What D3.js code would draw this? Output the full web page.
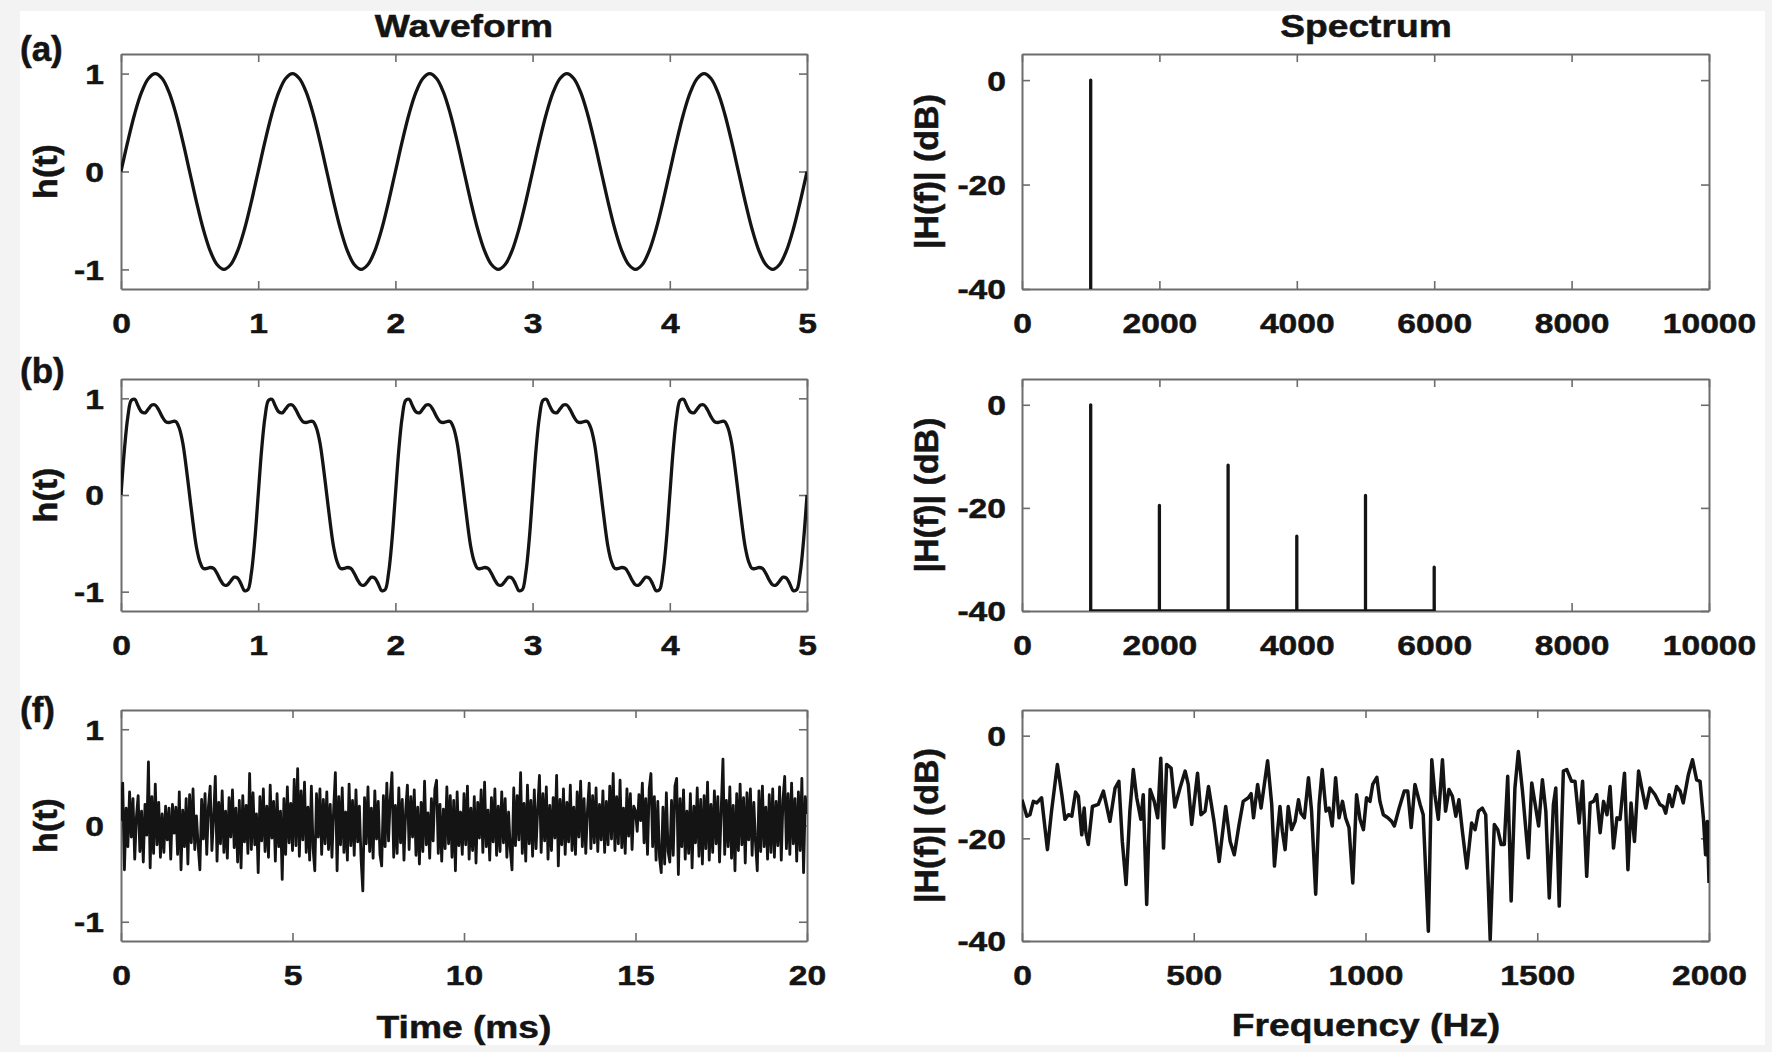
<!DOCTYPE html>
<html><head><meta charset="utf-8">
<script src="https://cdn.jsdelivr.net/npm/d3@7"></script>
<style>
html,body{margin:0;padding:0;background:#f3f3f3;}
svg{display:block;}
text{font-family:"Liberation Sans",Arial,Helvetica,sans-serif;font-weight:bold;fill:#141414;stroke:#141414;stroke-width:0.5px;}
</style></head><body>
<svg id="chart" width="1772" height="1052"></svg>
<script>
// ---------------- DATA ----------------
const columnTitles = ["Waveform", "Spectrum"];
const panelLabels = ["(a)", "(b)", "(f)"];
const waveYLabel = "h(t)";
const specYLabel = "|H(f)| (dB)";
const timeLabel = "Time (ms)";
const freqLabel = "Frequency (Hz)";

const waveTicksShort = [0, 1, 2, 3, 4, 5];
const waveTicksLong = [0, 5, 10, 15, 20];
const waveYTicks = [-1, 0, 1];
const specTicksWide = [0, 2000, 4000, 6000, 8000, 10000];
const specTicksNarrow = [0, 500, 1000, 1500, 2000];
const specYTicks = [-40, -20, 0];

// (a) pure tone, samples every 0.05 ms
const sineStep = 0.05;
const sineValues = [
 0,0.31,0.59,0.81,0.95,1,0.95,0.81,0.59,0.31,0,-0.31,-0.59,-0.81,-0.95,-1,-0.95,-0.81,-0.59,-0.31,
 0,0.31,0.59,0.81,0.95,1,0.95,0.81,0.59,0.31,0,-0.31,-0.59,-0.81,-0.95,-1,-0.95,-0.81,-0.59,-0.31,
 0,0.31,0.59,0.81,0.95,1,0.95,0.81,0.59,0.31,0,-0.31,-0.59,-0.81,-0.95,-1,-0.95,-0.81,-0.59,-0.31,
 0,0.31,0.59,0.81,0.95,1,0.95,0.81,0.59,0.31,0,-0.31,-0.59,-0.81,-0.95,-1,-0.95,-0.81,-0.59,-0.31,
 0,0.31,0.59,0.81,0.95,1,0.95,0.81,0.59,0.31,0,-0.31,-0.59,-0.81,-0.95,-1,-0.95,-0.81,-0.59,-0.31,
 0];

// (b) complex periodic tone, samples every 0.025 ms
const complexStep = 0.025;
const complexValues = [
 0,0.47,0.81,0.98,0.99,0.92,0.86,0.85,0.89,0.93,0.93,0.88,0.81,0.76,0.75,0.76,0.76,0.69,0.54,0.29,
 0,-0.29,-0.54,-0.69,-0.76,-0.76,-0.75,-0.76,-0.81,-0.88,-0.93,-0.93,-0.89,-0.85,-0.86,-0.92,-0.99,-0.98,-0.81,-0.47,
 0,0.47,0.81,0.98,0.99,0.92,0.86,0.85,0.89,0.93,0.93,0.88,0.81,0.76,0.75,0.76,0.76,0.69,0.54,0.29,
 0,-0.29,-0.54,-0.69,-0.76,-0.76,-0.75,-0.76,-0.81,-0.88,-0.93,-0.93,-0.89,-0.85,-0.86,-0.92,-0.99,-0.98,-0.81,-0.47,
 0,0.47,0.81,0.98,0.99,0.92,0.86,0.85,0.89,0.93,0.93,0.88,0.81,0.76,0.75,0.76,0.76,0.69,0.54,0.29,
 0,-0.29,-0.54,-0.69,-0.76,-0.76,-0.75,-0.76,-0.81,-0.88,-0.93,-0.93,-0.89,-0.85,-0.86,-0.92,-0.99,-0.98,-0.81,-0.47,
 0,0.47,0.81,0.98,0.99,0.92,0.86,0.85,0.89,0.93,0.93,0.88,0.81,0.76,0.75,0.76,0.76,0.69,0.54,0.29,
 0,-0.29,-0.54,-0.69,-0.76,-0.76,-0.75,-0.76,-0.81,-0.88,-0.93,-0.93,-0.89,-0.85,-0.86,-0.92,-0.99,-0.98,-0.81,-0.47,
 0,0.47,0.81,0.98,0.99,0.92,0.86,0.85,0.89,0.93,0.93,0.88,0.81,0.76,0.75,0.76,0.76,0.69,0.54,0.29,
 0,-0.29,-0.54,-0.69,-0.76,-0.76,-0.75,-0.76,-0.81,-0.88,-0.93,-0.93,-0.89,-0.85,-0.86,-0.92,-0.99,-0.98,-0.81,-0.47,
 0];

// (f) noise, samples every 0.05 ms
const noiseStep = 0.05;
const noiseValues = [
 0.05,0.44,-0.46,0.18,-0.22,0.35,-0.12,0.28,-0.35,0.09,0.31,-0.27,0.15,-0.38,0.22,-0.10,0.66,-0.44,0.30,-0.29,
 0.43,-0.20,0.24,-0.33,0.12,-0.28,0.20,-0.15,0.18,-0.35,0.22,-0.08,0.19,-0.30,0.35,-0.46,0.16,-0.22,0.28,-0.40,
 0.32,-0.18,0.38,-0.25,0.10,-0.21,-0.46,0.27,-0.14,0.33,-0.30,0.20,0.41,-0.26,0.08,0.51,-0.37,0.24,-0.19,0.36,
 -0.28,0.15,-0.34,0.29,-0.12,0.37,-0.23,0.18,-0.38,0.26,-0.44,0.31,-0.17,0.21,-0.29,0.54,-0.25,0.34,-0.20,0.12,
 -0.49,0.30,-0.16,0.38,-0.27,0.20,-0.33,0.42,-0.13,0.25,-0.37,0.33,-0.22,0.15,-0.56,0.28,-0.30,0.40,-0.18,0.23,
 -0.26,0.48,-0.21,0.59,-0.32,0.36,-0.15,0.45,-0.28,0.19,-0.36,0.41,-0.24,-0.47,0.33,-0.12,0.38,-0.30,0.27,-0.19,
 0.35,-0.25,0.22,-0.33,0.17,0.55,-0.47,0.30,-0.20,0.39,-0.28,0.14,-0.36,0.43,-0.21,0.26,-0.31,0.37,-0.17,0.20,
 -0.35,-0.68,0.29,-0.19,0.40,-0.27,0.18,-0.34,0.36,-0.14,0.25,-0.30,-0.42,0.31,-0.22,0.44,-0.16,0.28,0.55,-0.33,
 0.21,-0.29,0.39,-0.18,0.27,-0.36,0.16,0.42,-0.25,0.30,-0.12,0.37,-0.31,0.19,-0.40,0.24,-0.27,0.46,-0.20,0.13,
 -0.34,0.28,-0.16,0.38,0.47,-0.29,0.22,-0.37,0.17,-0.24,0.40,-0.19,0.31,-0.33,0.26,-0.47,0.35,-0.21,0.14,-0.30,
 0.33,-0.20,0.41,-0.35,0.18,-0.26,0.30,-0.39,0.24,-0.13,0.37,-0.28,0.45,-0.22,0.16,-0.36,0.29,-0.17,0.38,-0.31,
 0.20,-0.27,0.35,-0.18,0.28,-0.33,0.14,-0.25,-0.46,0.39,-0.21,0.31,-0.15,0.55,-0.29,0.23,-0.37,0.42,-0.19,0.26,
 -0.32,0.37,-0.24,0.18,0.52,-0.28,0.33,-0.16,0.40,-0.35,0.21,-0.26,0.29,-0.13,0.52,-0.42,0.27,-0.20,0.38,-0.30,
 0.24,-0.17,0.42,-0.26,0.19,-0.30,0.35,-0.12,0.46,-0.22,0.28,-0.29,0.16,0.44,-0.24,0.31,-0.18,0.39,-0.27,0.22,
 -0.15,0.36,-0.28,0.25,-0.20,0.41,-0.14,0.54,-0.26,0.30,-0.19,0.47,-0.23,0.18,-0.29,0.38,-0.11,0.33,-0.25,0.20,
 0.15,-0.06,0.32,0.05,0.44,-0.18,0.28,-0.30,0.38,0.54,-0.22,0.30,-0.36,0.25,-0.33,-0.49,0.19,-0.40,0.34,-0.27,
 -0.38,0.26,-0.31,0.41,0.49,-0.51,0.28,-0.22,0.37,-0.35,0.15,-0.29,0.33,-0.44,0.20,-0.18,0.39,-0.32,0.27,-0.40,
 0.31,-0.24,0.45,-0.36,0.22,-0.28,0.36,-0.19,0.30,-0.38,0.18,0.69,-0.30,0.26,-0.22,0.40,-0.34,0.21,-0.47,0.33,
 -0.26,0.43,-0.20,0.29,-0.39,0.34,-0.15,0.38,-0.31,0.24,-0.18,-0.47,0.36,-0.27,0.41,-0.22,0.19,-0.35,0.32,-0.28,
 0.38,-0.33,0.25,-0.21,0.40,-0.36,0.27,0.51,-0.24,0.33,-0.30,0.44,-0.19,0.28,-0.37,0.35,-0.26,0.49,-0.49,0.30,
 0.12];

// spectra (a) and (b): harmonic frequencies (Hz) and levels (dB)
const specFloor = -40;
const toneFreqs = [1000];
const toneDb = [0];
const complexFreqs = [1000, 2000, 3000, 4000, 5000, 6000];
const complexDb = [0, -19.5, -11.7, -25.5, -17.6, -31.5];

// spectrum (f)
const noiseSpecFreq = [0,14,23,33,43,57,74,86,103,116,125,135,145,156,164,174,181,186,193,205,222,237,256,271,282,292,303,314,324,334,346,353,363,373,385,395,404,412,421,434,445,460,475,484,494,511,521,533,543,559,574,593,606,618,632,644,659,667,674,686,696,715,727,735,743,751,758,766,775,785,795,805,812,822,834,843,855,865,874,885,894,903,913,923,933,942,952,963,974,984,994,1003,1013,1021,1033,1042,1052,1065,1076,1084,1098,1113,1123,1133,1144,1159,1168,1183,1193,1202,1212,1224,1233,1243,1253,1263,1272,1282,1295,1309,1319,1329,1340,1350,1363,1375,1385,1395,1404,1414,1424,1435,1445,1457,1474,1484,1494,1504,1515,1525,1535,1547,1554,1564,1576,1586,1600,1610,1622,1632,1644,1654,1664,1673,1683,1693,1703,1712,1722,1732,1741,1754,1764,1773,1783,1795,1806,1816,1828,1843,1857,1867,1874,1884,1893,1906,1916,1925,1940,1952,1964,1974,1984,1990,1995,2000];
const noiseSpecDb = [-12.5,-15.7,-15.4,-12.8,-13.1,-12.1,-22.2,-14.7,-5.6,-11.5,-16.3,-15.4,-15.7,-11.0,-11.8,-19.3,-14.1,-18.9,-21.2,-13.8,-13.4,-10.8,-16.7,-10.2,-8.9,-20.6,-29.0,-14.7,-6.6,-12.1,-16.3,-11.5,-32.9,-10.5,-12.8,-16.0,-4.4,-21.9,-5.6,-6.3,-13.9,-10.2,-6.9,-9.5,-17.3,-7.3,-15.4,-14.7,-9.9,-16.7,-24.5,-13.8,-20.6,-23.2,-17.3,-12.8,-12.1,-11.3,-16.0,-9.5,-14.1,-4.9,-13.4,-25.4,-19.3,-13.8,-18.6,-22.2,-13.8,-18.3,-16.7,-12.5,-15.1,-16.0,-8.2,-14.7,-30.9,-13.4,-6.6,-14.7,-14.1,-17.6,-8.2,-16.0,-12.8,-16.0,-17.9,-28.7,-11.5,-16.3,-18.3,-12.1,-12.8,-9.5,-8.1,-12.8,-15.4,-16.0,-16.7,-17.6,-14.1,-10.8,-10.8,-17.9,-9.5,-13.4,-15.4,-38.1,-4.7,-11.5,-16.3,-4.7,-14.7,-10.5,-11.8,-15.7,-12.5,-18.6,-25.8,-17.0,-18.3,-14.7,-14.1,-15.4,-39.7,-17.3,-18.3,-21.2,-21.2,-7.9,-32.2,-10.2,-3.1,-10.8,-23.8,-9.2,-13.4,-17.6,-8.6,-14.7,-31.6,-13.4,-10.2,-33.2,-6.9,-6.6,-8.9,-8.9,-17.0,-8.9,-27.4,-13.1,-12.8,-11.5,-18.9,-12.8,-15.4,-9.9,-21.9,-16.0,-16.3,-7.3,-26.1,-13.1,-20.6,-6.9,-10.8,-14.1,-10.2,-11.5,-13.4,-13.8,-15.1,-11.5,-13.8,-9.9,-10.8,-13.1,-7.6,-4.7,-8.6,-8.9,-16.3,-23.2,-16.7,-28.7];

// ---------------- DRAWING ----------------
const svg = d3.select("#chart");
svg.append("rect").attr("x", 20).attr("y", 11).attr("width", 1745).attr("height", 1034).attr("fill", "#ffffff");

const SX = 1.18;            // horizontal stretch of the original lettering
const AXIS = "#6c6c6c";
const INK = "#141414";
const colX = [[121, 807], [1022, 1709]];
const rowY = [[54, 289], [379, 611], [710, 941]];

function sampled(values, step) { return values.map((v, i) => [i * step, v]); }
function stems(freqs, dbs) {
  const pts = [];
  freqs.forEach((f, i) => { pts.push([f, specFloor], [f, dbs[i]], [f, specFloor]); });
  return pts;
}

function panel(cfg) {
  const [x0, x1] = colX[cfg.col], [y0, y1] = rowY[cfg.row];
  const x = d3.scaleLinear().domain(cfg.xDomain).range([x0, x1]);
  const y = d3.scaleLinear().domain(cfg.yDomain).range([y1, y0]);
  const g = svg.append("g");
  const id = "clip" + cfg.col + "_" + cfg.row;
  svg.append("defs").append("clipPath").attr("id", id)
    .append("rect").attr("x", x0).attr("y", y0).attr("width", x1 - x0).attr("height", y1 - y0);

  const fmt = d => String(d);
  const styleAxis = sel => {
    sel.select(".domain").attr("stroke", AXIS).attr("stroke-width", 2);
    sel.selectAll(".tick line").attr("stroke", AXIS).attr("stroke-width", 1.6);
    sel.attr("font-family", null).attr("font-size", null);
  };
  // bottom
  const gb = g.append("g").attr("transform", `translate(0,${y1})`)
    .call(d3.axisBottom(x).tickValues(cfg.xTicks).tickSizeInner(-8).tickSizeOuter(0).tickFormat(fmt));
  styleAxis(gb);
  gb.selectAll(".tick text").attr("y", 24).attr("dy", "0.71em")
    .style("font-size", "28.5px").attr("transform", `scale(${SX},1)`);
  // top
  const gt = g.append("g").attr("transform", `translate(0,${y0})`)
    .call(d3.axisTop(x).tickValues(cfg.xTicks).tickSizeInner(-8).tickSizeOuter(0).tickFormat(""));
  styleAxis(gt);
  // left
  const gl = g.append("g").attr("transform", `translate(${x0},0)`)
    .call(d3.axisLeft(y).tickValues(cfg.yTicks).tickSizeInner(-8).tickSizeOuter(0).tickFormat(fmt));
  styleAxis(gl);
  gl.selectAll(".tick text").attr("x", -cfg.yGap / SX).attr("dy", "0.35em")
    .style("font-size", "28.5px").attr("transform", `scale(${SX},1)`);
  // right
  const gr = g.append("g").attr("transform", `translate(${x1},0)`)
    .call(d3.axisRight(y).tickValues(cfg.yTicks).tickSizeInner(-8).tickSizeOuter(0).tickFormat(""));
  styleAxis(gr);

  // data
  g.append("path").datum(cfg.data)
    .attr("clip-path", `url(#${id})`)
    .attr("fill", "none").attr("stroke", INK).attr("stroke-width", cfg.sw)
    .attr("stroke-linejoin", "round")
    .attr("d", d3.line().x(d => x(d[0])).y(d => y(d[1])).curve(cfg.curve || d3.curveLinear));

  // y label
  g.append("text")
    .attr("transform", `translate(${cfg.yLabelX},${(y0 + y1) / 2}) rotate(-90)`)
    .attr("text-anchor", "middle").style("font-size", "34px")
    .text(cfg.yLabel);
  return { x, y };
}

const waveYDomain = [-1.2, 1.2];
const specYDomain = [-40, 5];

panel({ col: 0, row: 0, xDomain: [0, 5], yDomain: waveYDomain, xTicks: waveTicksShort, yTicks: waveYTicks,
  data: sampled(sineValues, sineStep), sw: 3.3, curve: d3.curveCatmullRom, yLabel: waveYLabel, yLabelX: 57, yGap: 17 });
panel({ col: 1, row: 0, xDomain: [0, 10000], yDomain: specYDomain, xTicks: specTicksWide, yTicks: specYTicks,
  data: stems(toneFreqs, toneDb), sw: 3.3, yLabel: specYLabel, yLabelX: 938, yGap: 16 });
panel({ col: 0, row: 1, xDomain: [0, 5], yDomain: waveYDomain, xTicks: waveTicksShort, yTicks: waveYTicks,
  data: sampled(complexValues, complexStep), sw: 3.3, curve: d3.curveCatmullRom, yLabel: waveYLabel, yLabelX: 57, yGap: 17 });
panel({ col: 1, row: 1, xDomain: [0, 10000], yDomain: specYDomain, xTicks: specTicksWide, yTicks: specYTicks,
  data: stems(complexFreqs, complexDb), sw: 3.3, yLabel: specYLabel, yLabelX: 938, yGap: 16 });
panel({ col: 0, row: 2, xDomain: [0, 20], yDomain: waveYDomain, xTicks: waveTicksLong, yTicks: waveYTicks,
  data: sampled(noiseValues, noiseStep), sw: 2.8, yLabel: waveYLabel, yLabelX: 57, yGap: 17 });
panel({ col: 1, row: 2, xDomain: [0, 2000], yDomain: specYDomain, xTicks: specTicksNarrow, yTicks: specYTicks,
  data: noiseSpecFreq.map((f, i) => [f, noiseSpecDb[i]]), sw: 3.5, yLabel: specYLabel, yLabelX: 938, yGap: 16 });

// column titles
[[464, columnTitles[0]], [1366, columnTitles[1]]].forEach(([cx, t]) => {
  svg.append("text").attr("transform", `translate(${cx},37) scale(${SX},1)`)
    .attr("text-anchor", "middle").style("font-size", "31.5px").text(t);
});
// panel letters
[[61, panelLabels[0]], [383, panelLabels[1]], [722, panelLabels[2]]].forEach(([by, t]) => {
  svg.append("text").attr("x", 20).attr("y", by).style("font-size", "35px").text(t);
});
// x labels
svg.append("text").attr("transform", `translate(464,1038) scale(${SX},1)`)
  .attr("text-anchor", "middle").style("font-size", "31.5px").text(timeLabel);
svg.append("text").attr("transform", `translate(1366,1036) scale(${SX},1)`)
  .attr("text-anchor", "middle").style("font-size", "31.5px").text(freqLabel);
</script>
</body></html>
